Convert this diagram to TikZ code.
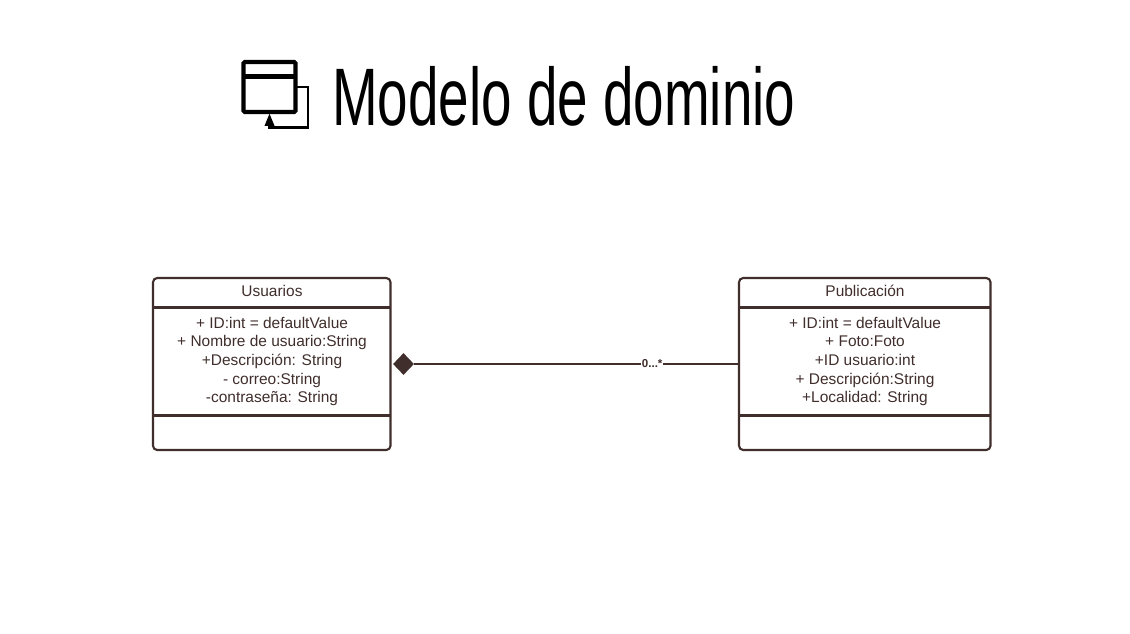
\documentclass[tikz,border=0pt]{standalone}
\usepackage{fontspec}
\setmainfont{Liberation Sans}
\newfontfamily\titlefont[FakeStretch=0.672]{Liberation Sans}
\usetikzlibrary{shapes.geometric}
\definecolor{umlbrown}{HTML}{3F2E2B}
\tikzset{
  classbox/.style={draw=umlbrown, line width=1.5pt, rounded corners=3pt, minimum width=#1, minimum height=172*0.025cm, inner sep=0pt},
  classtext/.style={text=umlbrown, font=\fontsize{11}{13.25}\selectfont, align=center, inner sep=0pt},
  iconline/.style={line width=#1, black},
}
\begin{document}
\begin{tikzpicture}[x=0.025cm, y=-0.025cm]
  \useasboundingbox (0,0) rectangle (1130,633);

  % title with its icon
  \node[iconline=3pt, draw, rounded corners=1pt, minimum width=52*0.025cm, minimum height=50*0.025cm, inner sep=0pt] (iconbox) at (269.5,87) {};
  \coordinate (iconleft) at (243.5,76.5);
  \coordinate (iconright) at (295.5,76.5);
  \draw[iconline=3pt] (iconleft) -- (iconright);
  \coordinate (iconbend) at (296,87);
  \coordinate (iconfoot) at (269.5,113);
  \draw[iconline=1.6pt] (iconbend) -- (308,87) -- (308,127.5) -- (269.5,127.5) -- (269.5,120);
  \node[isosceles triangle, isosceles triangle apex angle=45, shape border rotate=90, fill=black, inner sep=0pt, minimum height=12*0.025cm, minimum width=10*0.025cm, anchor=apex] (iconhead) at (iconfoot) {};
  \node[anchor=base west, inner sep=0pt, font=\titlefont\fontsize{58}{58}\selectfont] (title) at (332,125) {Modelo de dominio};

  % class on the left
  \node[classbox=237.5*0.025cm] (usuarios) at (271.75,364) {};
  \node[classtext] (usuariosname) at (272,290.5) {Usuarios};
  \node[classtext] (usuariosattrs) at (272,361.5) {+ ID:int = defaultValue\\+ Nombre de usuario:String\\+Descripción: String\\- correo:String\\-contraseña: String};
  \draw[umlbrown, line width=1.5pt] (153,307.5) -- (390.5,307.5);
  \draw[umlbrown, line width=1.5pt] (153,415.5) -- (390.5,415.5);

  % class on the right
  \node[classbox=251.5*0.025cm] (publicacion) at (864.75,364) {};
  \node[classtext] (publicacionname) at (865,290.5) {Publicación};
  \node[classtext] (publicacionattrs) at (865,361.5) {+ ID:int = defaultValue\\+ Foto:Foto\\+ID usuario:int\\+ Descripción:String\\+Localidad: String};
  \draw[umlbrown, line width=1.5pt] (739,307.5) -- (990.5,307.5);
  \draw[umlbrown, line width=1.5pt] (739,415.5) -- (990.5,415.5);

  % the association
  \node[diamond, fill=umlbrown, inner sep=0pt, minimum width=21*0.025cm, minimum height=22*0.025cm] (whole) at (403.5,364) {};
  \draw[umlbrown, line width=1.1pt] (whole) -- (publicacion.west)
    node[pos=0.735, fill=white, inner sep=0.5pt, text=umlbrown, font=\bfseries\fontsize{8.2}{9}\selectfont] (multiplicity) {0...*};
\end{tikzpicture}
\end{document}
